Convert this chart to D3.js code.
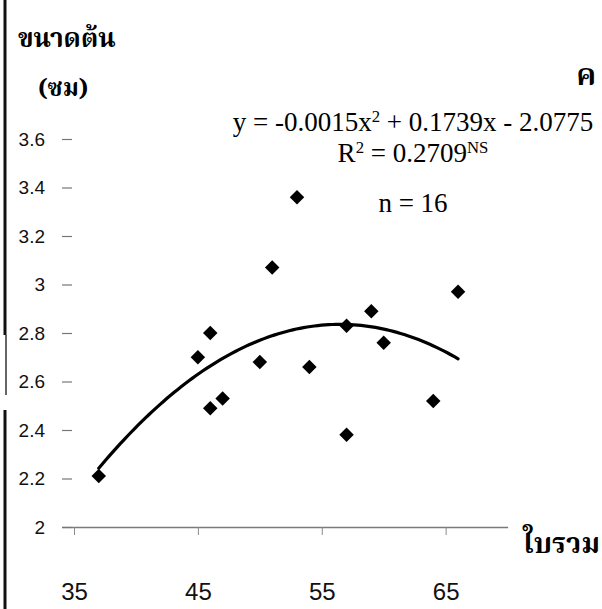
<!DOCTYPE html>
<html>
<head>
<meta charset="utf-8">
<script src="https://cdn.jsdelivr.net/npm/d3@7"></script>
<style>
  html, body { margin: 0; padding: 0; background: #fff; }
  svg { display: block; }
</style>
</head>
<body>
<svg id="chart" width="602" height="609"></svg>
<script>
// ---- data ----
const leafTotal = [37, 53, 51, 46, 45, 50, 54, 57, 59, 60, 47, 46, 57, 66, 64];   // ใบรวม
const stemSize  = [2.21, 3.36, 3.07, 2.80, 2.70, 2.68, 2.66, 2.83, 2.89, 2.76, 2.53, 2.49, 2.38, 2.97, 2.52]; // ขนาดต้น (ซม)
const xTickValues = [35, 45, 55, 65];
const yTickValues = [2, 2.2, 2.4, 2.6, 2.8, 3, 3.2, 3.4, 3.6];
const yLabel1 = "ขนาดต้น";
const yLabel2 = "(ซม)";
const xLabel = "ใบรวม";
const panelLabel = "ค";
const eqParts = [["y = -0.0015x", ""], ["2", "sup"], [" + 0.1739x - 2.0775", ""]];
const r2Parts = [["R", ""], ["2", "sup"], [" = 0.2709", ""], ["NS", "sup"]];
const nText = "n = 16";

const svg = d3.select("#chart");
const thaiFont = "'Noto Serif Thai','Norasi','Kinnari','Laksaman','Tlwg Typo','Noto Sans Thai','Loma','Garuda',serif";

const x = d3.scaleLinear().domain([34, 70]).range([61.6, 507.6]);
const y = d3.scaleLinear().domain([2, 3.6]).range([527, 139]);

// left scan border
svg.append("line").attr("x1", 5).attr("x2", 5).attr("y1", 0).attr("y2", 335)
  .attr("stroke", "#111").attr("stroke-width", 3);
svg.append("line").attr("x1", 6).attr("x2", 6).attr("y1", 335).attr("y2", 395)
  .attr("stroke", "#333").attr("stroke-width", 1.5);
svg.append("line").attr("x1", 5).attr("x2", 5).attr("y1", 410).attr("y2", 609)
  .attr("stroke", "#111").attr("stroke-width", 3);

// x axis
const xAxis = d3.axisBottom(x).tickValues(xTickValues).tickSize(8).tickSizeOuter(0).tickPadding(48);
const gx = svg.append("g").attr("transform", `translate(0,${y(2)})`).call(xAxis);
gx.select(".domain").attr("stroke", "#7a7a7a").attr("stroke-width", 1.6);
gx.selectAll(".tick line").attr("stroke", "#8a8a8a").attr("stroke-width", 1);
gx.selectAll(".tick text").attr("font-family", "'Liberation Sans', Arial, sans-serif")
  .attr("font-size", 24).attr("fill", "#111");

// y axis (dashes + labels, no line)
const yAxis = d3.axisLeft(y).tickValues(yTickValues).tickSize(10).tickPadding(17).tickFormat(d3.format("~g"));
const gy = svg.append("g").attr("transform", "translate(72,0)").call(yAxis);
gy.select(".domain").remove();
gy.selectAll(".tick line").attr("stroke", "#777").attr("stroke-width", 1.2);
gy.selectAll(".tick text").attr("font-family", "'Liberation Sans', Arial, sans-serif")
  .attr("font-size", 19).attr("fill", "#111");

// least squares quadratic fit of the data
function quadFit(xs, ys) {
  let S = [0,0,0,0,0], T = [0,0,0];
  xs.forEach((xi, i) => {
    let p = 1;
    for (let k = 0; k < 5; k++) { S[k] += p; if (k < 3) T[k] += p * ys[i]; p *= xi; }
  });
  const A = [[S[0],S[1],S[2],T[0]],[S[1],S[2],S[3],T[1]],[S[2],S[3],S[4],T[2]]];
  for (let c = 0; c < 3; c++) {
    let m = c;
    for (let r = c+1; r < 3; r++) if (Math.abs(A[r][c]) > Math.abs(A[m][c])) m = r;
    [A[c], A[m]] = [A[m], A[c]];
    for (let r = 0; r < 3; r++) if (r !== c) {
      const f = A[r][c] / A[c][c];
      for (let k = c; k < 4; k++) A[r][k] -= f * A[c][k];
    }
  }
  return [A[0][3]/A[0][0], A[1][3]/A[1][1], A[2][3]/A[2][2]];
}
const coef = quadFit(leafTotal, stemSize);
const [xmin, xmax] = d3.extent(leafTotal);
const fitPts = d3.range(0, 101).map(i => {
  const xv = xmin + (xmax - xmin) * i / 100;
  return [xv, coef[0] + coef[1]*xv + coef[2]*xv*xv];
});
svg.append("path").datum(fitPts)
  .attr("d", d3.line().x(d => x(d[0])).y(d => y(d[1])))
  .attr("fill", "none").attr("stroke", "#000").attr("stroke-width", 3.2).attr("stroke-linecap", "round");

// points
const sym = d3.symbol().type(d3.symbolSquare).size(105);
svg.append("g").selectAll("path.pt").data(leafTotal.map((v, i) => [v, stemSize[i]]))
  .join("path").attr("class", "pt")
  .attr("d", sym)
  .attr("transform", d => `translate(${x(d[0])},${y(d[1])}) rotate(45)`)
  .attr("fill", "#000");

// text labels
svg.append("text").attr("x", 18).attr("y", 47).text(yLabel1)
  .attr("font-family", thaiFont).attr("font-weight", "bold").attr("font-size", 26).attr("fill", "#000");
svg.append("text").attr("x", 38).attr("y", 96).text(yLabel2)
  .attr("font-family", thaiFont).attr("font-weight", "bold").attr("font-size", 24).attr("fill", "#000");
svg.append("text").attr("x", 596).attr("y", 85).attr("text-anchor", "end").text(panelLabel)
  .attr("font-family", thaiFont).attr("font-weight", "bold").attr("font-size", 30).attr("fill", "#000");
svg.append("text").attr("x", 600).attr("y", 553).attr("text-anchor", "end").text(xLabel)
  .attr("font-family", thaiFont).attr("font-weight", "bold").attr("font-size", 28).attr("fill", "#000");

function richText(parts, cx, cy, size) {
  const t = svg.append("text").attr("x", cx).attr("y", cy).attr("text-anchor", "middle")
    .attr("font-family", "'Liberation Serif','Times New Roman',serif").attr("font-size", size).attr("fill", "#000");
  parts.forEach(([s, kind]) => {
    const ts = t.append("tspan").text(s);
    if (kind === "sup") ts.attr("baseline-shift", "super").attr("font-size", size * 0.62);
  });
  return t;
}
richText(eqParts, 413, 131, 27);
richText(r2Parts, 413, 162, 27);
richText([[nText, ""]], 413, 212, 27);
</script>
</body>
</html>
